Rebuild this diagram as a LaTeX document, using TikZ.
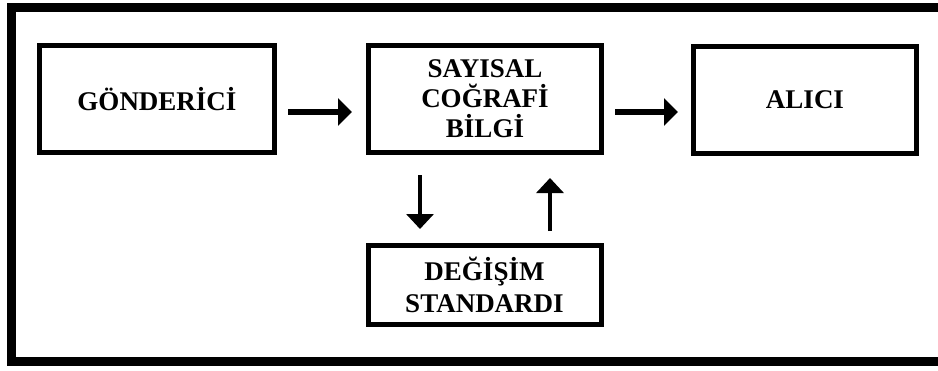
\documentclass[tikz,border=0pt]{standalone}
\usepackage{fontspec}
\setmainfont{Liberation Serif}
\usetikzlibrary{arrows.meta}
\begin{document}
\begin{tikzpicture}[x=1pt,y=1pt,
  box/.style={draw, line width=5pt, inner sep=0pt, align=center,
    font=\fontsize{27}{30}\selectfont\bfseries, minimum height=107pt},
  harrow/.style={line width=6pt, -{Triangle[length=14pt,width=27pt]}},
  varrow/.style={line width=3.5pt, -{Triangle[length=15pt,width=27pt]}}]
\useasboundingbox (0,0) rectangle (938,-370);
\draw[line width=9pt, miter limit=10] (938,-7) -- (11.5,-7) -- (11.5,-361) -- (938,-361);
\node[box, minimum width=235pt] (gon) at (157,-99) {GÖNDERİCİ};
\node[box, minimum width=233pt] (say) at (485,-99) {SAYISAL\\COĞRAFİ\\BİLGİ};
\node[box, minimum width=223pt] (alici) at (805,-99.5) {ALICI};
\node[box, minimum width=233pt, minimum height=79pt, font=\fontsize{27}{32}\selectfont\bfseries] (deg) at (484.5,-285) {DEĞİŞİM\\STANDARDI};
\draw[harrow] ([xshift=11pt,yshift=-13pt]gon.east) -- ([xshift=-14pt,yshift=-13pt]say.west);
\draw[harrow] ([xshift=11pt,yshift=-13pt]say.east) -- ([xshift=-13pt,yshift=-12.5pt]alici.west);
\draw[varrow] ([xshift=-65pt,yshift=-20pt]say.south) -- ([xshift=-64.5pt,yshift=14pt]deg.north);
\draw[varrow] ([xshift=65.5pt,yshift=12pt]deg.north) -- ([xshift=65pt,yshift=-23pt]say.south);
\end{tikzpicture}
\end{document}
